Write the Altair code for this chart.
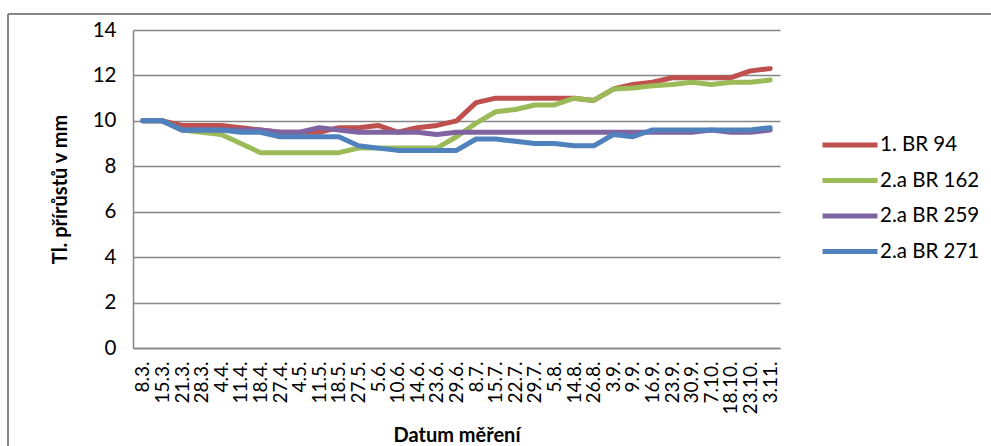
import altair as alt
import pandas as pd

dates = ["8.3.", "15.3.", "21.3.", "28.3.", "4.4.", "11.4.", "18.4.", "27.4.", "4.5.", "11.5.",
         "18.5.", "27.5.", "5.6.", "10.6.", "14.6.", "23.6.", "29.6.", "8.7.", "15.7.", "22.7.",
         "29.7.", "5.8.", "14.8.", "26.8.", "3.9.", "9.9.", "16.9.", "23.9.", "30.9.", "7.10.",
         "18.10.", "23.10.", "3.11."]

series_names = ["1. BR 94", "2.a BR 162", "2.a BR 259", "2.a BR 271"]
series_colors = ["#C0504D", "#9BBB59", "#8064A2", "#4F81BD"]

br94 = [10, 10, 9.8, 9.8, 9.8, 9.7, 9.6, 9.5, 9.5, 9.5, 9.7, 9.7, 9.8, 9.5, 9.7, 9.8, 10.0,
        10.8, 11.0, 11.0, 11.0, 11.0, 11.0, 10.9, 11.4, 11.6, 11.7, 11.9, 11.9, 11.9, 11.9, 12.2, 12.3]
br162 = [10, 10, 9.6, 9.5, 9.4, 9.0, 8.6, 8.6, 8.6, 8.6, 8.6, 8.8, 8.8, 8.8, 8.8, 8.8, 9.3,
         9.9, 10.4, 10.5, 10.7, 10.7, 11.0, 10.9, 11.4, 11.45, 11.55, 11.6, 11.7, 11.6, 11.7, 11.7, 11.8]
br259 = [10, 10, 9.6, 9.6, 9.6, 9.6, 9.6, 9.5, 9.5, 9.7, 9.6, 9.5, 9.5, 9.5, 9.5, 9.4, 9.5,
         9.5, 9.5, 9.5, 9.5, 9.5, 9.5, 9.5, 9.5, 9.5, 9.5, 9.5, 9.5, 9.6, 9.5, 9.5, 9.6]
br271 = [10, 10, 9.6, 9.6, 9.6, 9.5, 9.5, 9.3, 9.3, 9.3, 9.3, 8.9, 8.8, 8.7, 8.7, 8.7, 8.7,
         9.2, 9.2, 9.1, 9.0, 9.0, 8.9, 8.9, 9.4, 9.3, 9.6, 9.6, 9.6, 9.6, 9.6, 9.6, 9.7]

y_ticks = [0, 2, 4, 6, 8, 10, 12, 14]

rows = []
for k, (name, vals) in enumerate(zip(series_names, [br94, br162, br259, br271])):
    for d, v in zip(dates, vals):
        rows.append({"datum": d, "serie": name, "hodnota": v, "poradi": k})
df = pd.DataFrame(rows)

W, H = 647, 318
GRAY = "#868686"

lines = alt.Chart(df).mark_line(strokeWidth=5, strokeCap="round", strokeJoin="round").encode(
    x=alt.X("datum:O", sort=dates, scale=alt.Scale(type="point", padding=0.5),
            axis=alt.Axis(title="Datum měření", labelAngle=-90, labelFontSize=19, labelPadding=13,
                          labelOverlap=False, ticks=False, domainColor=GRAY, domainWidth=1.5,
                          titleFontSize=20, titleFontWeight="bold", titlePadding=11,
                          labelColor="black", titleColor="black", grid=False)),
    y=alt.Y("hodnota:Q", scale=alt.Scale(domain=[0, 14]),
            axis=alt.Axis(values=y_ticks, title="Tl. přírůstů v mm", labelFontSize=20.5, labelPadding=17,
                          ticks=False, domainColor=GRAY, domainWidth=1.5, gridColor=GRAY,
                          gridWidth=1.5, titleFontSize=20, titleFontWeight="bold", titlePadding=22,
                          labelColor="black", titleColor="black")),
    color=alt.Color("serie:N", scale=alt.Scale(domain=series_names, range=series_colors),
                    legend=alt.Legend(orient="none", legendX=705, legendY=103, title=None,
                                      symbolType="M-3,0H3", symbolSize=336, symbolStrokeWidth=5,
                                      labelOffset=18, labelFontSize=20.5, rowPadding=12.5, padding=0,
                                      labelLimit=300, labelColor="black")),
    order=alt.Order("poradi:Q"),
    detail="serie:N",
)

frame_top = alt.Chart(pd.DataFrame({"a": [0]})).mark_rule(color=GRAY, strokeWidth=2).encode(
    x=alt.value(-125), x2=alt.value(870), y=alt.value(-16))
frame_left = alt.Chart(pd.DataFrame({"a": [0]})).mark_rule(color=GRAY, strokeWidth=2).encode(
    x=alt.value(-125), y=alt.value(-16), y2=alt.value(430))

chart = alt.layer(lines, frame_top, frame_left).properties(
    width=W, height=H,
    autosize=alt.AutoSizeParams(type="none"),
    padding={"left": 133, "top": 30, "right": 211, "bottom": 98},
    background="white",
).configure(font="Lato").configure_view(stroke=None)

chart.save("out.html", embed_options={"renderer": "svg", "actions": False})
